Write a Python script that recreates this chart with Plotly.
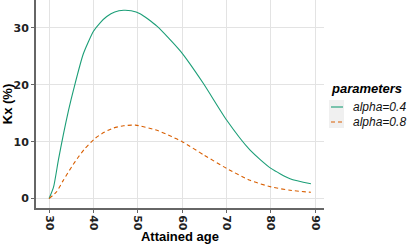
import plotly.graph_objects as go

age_a04 = [30, 31, 32.1, 33.2, 34.4, 35.5, 37.7, 40, 41.5, 43, 44.8, 46.8, 48.5, 50.5, 54.3, 59.6, 64.7, 70, 75.3, 80, 84.3, 89]
kx_a04 = [0, 2.0, 6.8, 11.2, 15.6, 19.1, 25.4, 29.4, 30.9, 32.0, 32.8, 33.1, 33.0, 32.5, 30.3, 25.9, 20.3, 13.8, 8.5, 5.3, 3.5, 2.6]

age_a08 = [30, 31.7, 33.2, 35.1, 36.6, 38.1, 40.4, 42.3, 44.5, 46.8, 49.5, 54.3, 57.6, 60, 65, 70, 75.3, 80, 84.3, 89]
kx_a08 = [0, 1.2, 3.2, 5.6, 7.3, 8.8, 10.6, 11.6, 12.4, 12.8, 12.9, 12.0, 10.9, 10.0, 7.6, 5.3, 3.2, 2.05, 1.46, 1.1]

x_ticks = [30, 40, 50, 60, 70, 80, 90]
y_ticks = [0, 10, 20, 30]
series_names = ["alpha=0.4", "alpha=0.8"]
series_colors = ["#1b9e77", "#d95f02"]
series_dash = ["solid", "4px,3px"]
legend_title = "parameters"

W, H = 415, 244
ML, MR, MT, MB = 36, 91, 0, 36
PW, PH = W - ML - MR, H - MT - MB


def px_x(p):
    return (p - ML) / PW


def px_y(p):
    return 1 - (p - MT) / PH


fig = go.Figure()
fig.add_trace(go.Scatter(x=age_a04, y=kx_a04, mode="lines", name=series_names[0], showlegend=False,
                         line=dict(color=series_colors[0], width=1.1, shape="spline", smoothing=0.6)))
fig.add_trace(go.Scatter(x=age_a08, y=kx_a08, mode="lines", name=series_names[1], showlegend=False,
                         line=dict(color=series_colors[1], width=1.1, dash=series_dash[1],
                                   shape="spline", smoothing=0.6)))

axis_common = dict(showgrid=True, gridcolor="#e3e3e3", gridwidth=1, zeroline=False,
                   showline=True, linecolor="#666666", linewidth=2, automargin=False,
                   ticks="outside", ticklen=3, tickcolor="#666666", tickwidth=1,
                   tickfont=dict(family="DejaVu Sans", size=11, color="#222222", weight="bold"))

fig.update_xaxes(range=[27.05, 91.95], tickvals=x_ticks, tickangle=90,
                 title=dict(text="<b>Attained age</b>", standoff=3,
                            font=dict(family="Liberation Sans", size=13, color="#000000")),
                 **axis_common)
fig.update_yaxes(range=[-1.66, 34.9], tickvals=y_ticks,
                 title=dict(text="<b>Kx (%)</b>", standoff=3,
                            font=dict(family="Liberation Sans", size=13, color="#000000")),
                 **axis_common)

# legend key background
fig.add_shape(type="rect", xref="paper", yref="paper",
              x0=px_x(329), x1=px_x(344), y0=px_y(128), y1=px_y(100),
              fillcolor="#f0f0f0", line=dict(width=0), layer="below")

row_y = [107, 122]
for i, name in enumerate(series_names):
    fig.add_shape(type="line", xref="paper", yref="paper",
                  x0=px_x(331), x1=px_x(343), y0=px_y(row_y[i]), y1=px_y(row_y[i]),
                  line=dict(color=series_colors[i], width=1.1, dash=series_dash[i]))
    fig.add_annotation(xref="paper", yref="paper", x=px_x(351), y=px_y(row_y[i]),
                       text="<i>" + name + "</i>", showarrow=False,
                       xanchor="left", yanchor="middle",
                       font=dict(family="Liberation Sans", size=12, color="#111111"))

fig.add_annotation(xref="paper", yref="paper", x=px_x(329), y=px_y(88),
                   text="<b><i>" + legend_title + "</i></b>", showarrow=False,
                   xanchor="left", yanchor="middle",
                   font=dict(family="Liberation Sans", size=13, color="#000000"))

fig.update_layout(
    width=W, height=H,
    margin=dict(l=ML, r=MR, t=MT, b=MB),
    plot_bgcolor="white", paper_bgcolor="white",
    showlegend=False,
)

fig.write_html("out.html", config={"displayModeBar": False},
               post_script="document.body.style.margin='0';document.body.style.overflow='hidden';")
